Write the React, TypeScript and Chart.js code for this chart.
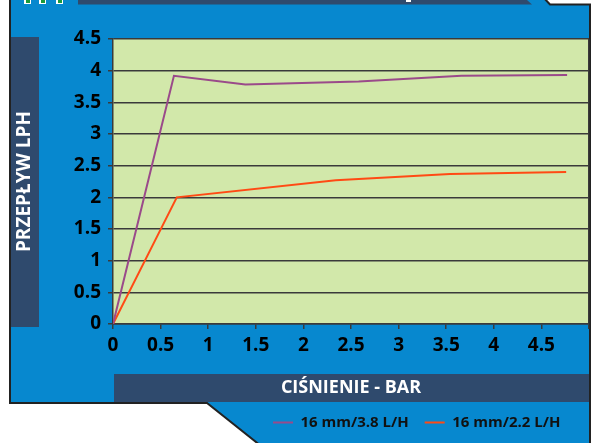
import React, { useEffect, useRef } from 'react';
import { Chart, registerables } from 'chart.js';

Chart.register(...registerables);

// ---- data ----
const seriesLabels = ['16 mm/3.8 L/H', '16 mm/2.2 L/H'];
const pressure38 = [0, 0.64, 1.39, 2.58, 3.66, 4.77];
const flow38 = [0, 3.92, 3.78, 3.83, 3.92, 3.93];
const pressure22 = [0, 0.67, 2.34, 3.54, 4.76];
const flow22 = [0, 2.0, 2.27, 2.37, 2.4];
const xTitle = 'CIŚNIENIE - BAR';
const yTitle = 'PRZEPŁYW LPH';
const xMin = 0;
const xMax = 5;
const xStep = 0.5;
const yMin = 0;
const yMax = 4.5;
const yStep = 0.5;

// ---- styles ----
const FONT = '"Open Sans", "DejaVu Sans", sans-serif';
const BLUE = '#0788cf';
const NAVY = '#2f4a6d';
const PLOT_BG = '#d2e8aa';
const GRID = '#3a3a3a';
const BORDER = '#222222';
const PURPLE = '#9a4a8a';
const ORANGE = '#ff4a14';

const fmt = (v: any) => String(Math.round(Number(v) * 100) / 100);

const panelPlugin = {
  id: 'panelBackground',
  beforeDraw(chart: any) {
    const { ctx, chartArea: a, width, height } = chart;
    ctx.save();
    ctx.fillStyle = '#ffffff';
    ctx.fillRect(0, 0, width, height);

    // blue panel with dark outline
    ctx.beginPath();
    ctx.moveTo(10, -3);
    ctx.lineTo(543, -3);
    ctx.lineTo(550, 4.5);
    ctx.lineTo(590, 4.5);
    ctx.lineTo(590, height + 3);
    ctx.lineTo(261, height + 3);
    ctx.lineTo(207, 403);
    ctx.lineTo(10, 403);
    ctx.closePath();
    ctx.fillStyle = BLUE;
    ctx.fill();
    ctx.strokeStyle = BORDER;
    ctx.lineWidth = 2;
    ctx.stroke();

    // top navy strip (cropped header)
    ctx.beginPath();
    ctx.moveTo(78, 0);
    ctx.lineTo(527, 0);
    ctx.lineTo(532, 4.5);
    ctx.lineTo(78, 4.5);
    ctx.closePath();
    ctx.fillStyle = NAVY;
    ctx.fill();
    ctx.fillStyle = '#ffffff';
    ctx.fillRect(406, 0, 5, 2);

    // small cropped logo marks
    [24, 39, 56].forEach((x0) => {
      ctx.fillStyle = '#ffffff';
      ctx.fillRect(x0, 0, 7, 4);
      ctx.fillStyle = '#1a9a3a';
      ctx.fillRect(x0 + 2, 0, 4, 3);
    });

    // y title box
    ctx.fillStyle = NAVY;
    ctx.fillRect(11, 37, 28, 290);
    // x title bar
    ctx.fillRect(114, 374, 475, 28);

    // plot background
    ctx.fillStyle = PLOT_BG;
    ctx.fillRect(a.left, a.top, a.right - a.left, a.bottom - a.top);
    ctx.restore();
  },
};

const legendPlacePlugin = {
  id: 'legendPlace',
  afterLayout(chart: any) {
    const l = chart.legend;
    if (l) {
      l.left = 257;
    }
  },
};

export default function App() {
  const ref = useRef<HTMLCanvasElement>(null);

  useEffect(() => {
    document.body.style.margin = '0';
    const tickFont = { family: FONT, size: 19, weight: 'bold' as const };
    const chart = new Chart(ref.current as HTMLCanvasElement, {
      type: 'line',
      data: {
        datasets: [
          {
            label: seriesLabels[0],
            data: pressure38.map((x, i) => ({ x, y: flow38[i] })),
            borderColor: PURPLE,
            backgroundColor: PURPLE,
            borderWidth: 2,
            pointRadius: 0,
            tension: 0,
          },
          {
            label: seriesLabels[1],
            data: pressure22.map((x, i) => ({ x, y: flow22[i] })),
            borderColor: ORANGE,
            backgroundColor: ORANGE,
            borderWidth: 2,
            pointRadius: 0,
            tension: 0,
          },
        ],
      },
      options: {
        animation: false,
        responsive: false,
        devicePixelRatio: 1,
        layout: { padding: { left: 0, top: 39, right: 7, bottom: 3 } },
        scales: {
          x: {
            type: 'linear',
            min: xMin,
            max: xMax,
            ticks: {
              stepSize: xStep,
              padding: 5,
              color: '#000',
              font: tickFont,
              maxRotation: 0,
              autoSkip: false,
              callback: (v: any) => (Math.abs(Number(v) - xMax) < 1e-9 ? '' : fmt(v)),
            },
            grid: {
              color: (c: any) => (c.tick && Math.abs(c.tick.value - xMax) < 1e-9 ? GRID : 'rgba(0,0,0,0)'),
              tickColor: GRID,
              tickLength: 5,
              lineWidth: 1.5,
            },
            border: { display: true, color: GRID, width: 1.5 },
            title: {
              display: true,
              text: xTitle,
              color: '#ffffff',
              font: { family: FONT, size: 18, weight: 'bold' },
              padding: { top: 0, bottom: 0 },
            },
            afterFit: (s: any) => {
              s.height = 75;
            },
          },
          y: {
            min: yMin,
            max: yMax,
            ticks: {
              stepSize: yStep,
              padding: 7,
              color: '#000',
              font: tickFont,
              callback: (v: any) => fmt(v),
            },
            grid: {
              color: GRID,
              tickColor: GRID,
              tickLength: 5,
              lineWidth: 1.5,
            },
            border: { display: true, color: GRID, width: 1.5 },
            title: {
              display: true,
              text: yTitle,
              color: '#ffffff',
              font: { family: FONT, size: 19, weight: 'bold' },
              padding: { top: 13, bottom: 0 },
            },
            afterFit: (s: any) => {
              s.width = 113;
            },
          },
        },
        plugins: {
          legend: {
            position: 'bottom',
            align: 'start',
            labels: {
              usePointStyle: true,
              pointStyle: 'line',
              pointStyleWidth: 20,
              padding: 16,
              color: '#111',
              font: { family: FONT, size: 15, weight: 'bold' },
            },
          },
          tooltip: { enabled: false },
        },
      },
      plugins: [panelPlugin, legendPlacePlugin],
    } as any);
    return () => chart.destroy();
  }, []);

  return (
    <div style={{ width: 596, height: 443, position: 'relative' }}>
      <canvas ref={ref} width={596} height={443} style={{ display: 'block' }} />
    </div>
  );
}
